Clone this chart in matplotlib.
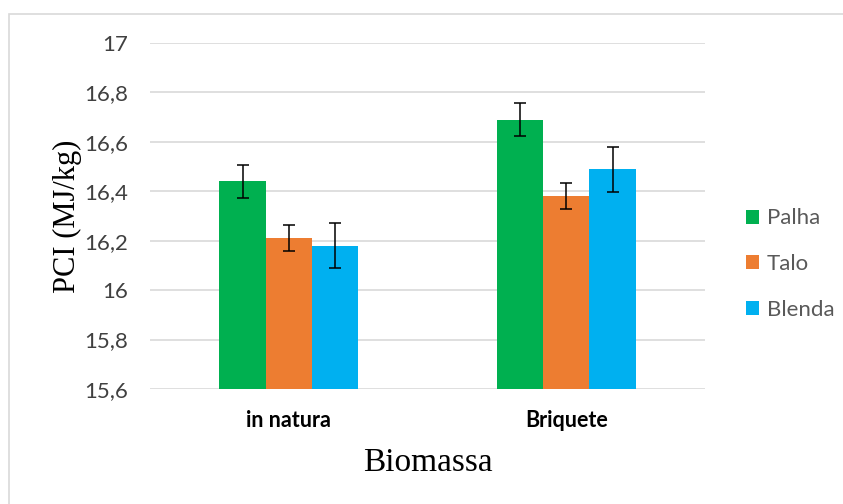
import numpy as np
import matplotlib.pyplot as plt
from matplotlib.patches import Rectangle

# PCI (MJ/kg) por biomassa
categorias = ['in natura', 'Briquete']
series = ['Palha', 'Talo', 'Blenda']
cores = ['#00B050', '#ED7D31', '#00B0F0']
pci = {
    'Palha': [16.44, 16.69],
    'Talo': [16.21, 16.38],
    'Blenda': [16.18, 16.49],
}
desvio = {
    'Palha': [0.067, 0.066],
    'Talo': [0.052, 0.052],
    'Blenda': [0.092, 0.091],
}
yticks = [15.6, 15.8, 16.0, 16.2, 16.4, 16.6, 16.8, 17.0]
ytick_labels = ['15,6', '15,8', '16', '16,2', '16,4', '16,6', '16,8', '17']

fig = plt.figure(figsize=(8.43, 5.04), dpi=100)
fig.patches.append(Rectangle((9 / 843, -0.1), 1.1, 1 - 14 / 504 + 0.1,
                             transform=fig.transFigure, fill=False,
                             edgecolor='#D9D9D9', linewidth=1.2))

ax = fig.add_axes([150 / 843, 1 - 389 / 504, 555 / 843, 346 / 504])

x = np.arange(len(categorias))
w = 0.5 / 3
for i, s in enumerate(series):
    ax.bar(x + (i - 1) * w, np.array(pci[s]) - 15.6, w, bottom=15.6,
           color=cores[i], label=s, zorder=2)
    ax.errorbar(x + (i - 1) * w, pci[s], yerr=desvio[s], fmt='none',
                ecolor='black', elinewidth=1.1, capsize=4.5, capthick=1.1,
                zorder=3)

ax.set_xlim(-0.5, 1.5)
ax.set_ylim(15.6, 17.0)
ax.set_yticks(yticks)
ax.set_yticklabels(ytick_labels, fontfamily='Lato', fontsize=16,
                   color='#404040')
ax.set_xticks(x)
ax.set_xticklabels(categorias, fontfamily='Lato', fontsize=15.5,
                   fontweight='bold', color='#000000')
ax.tick_params(axis='both', length=0)
ax.tick_params(axis='y', pad=16)
ax.tick_params(axis='x', pad=15)
ax.yaxis.grid(True, color='#D9D9D9', linewidth=1.2, zorder=0)
ax.set_axisbelow(True)
for sp in ax.spines.values():
    sp.set_visible(False)

ax.set_ylabel('PCI (MJ/kg)', fontfamily='Liberation Serif', fontsize=22)
ax.yaxis.set_label_coords((82 - 150) / 555, 0.5)
ax.set_xlabel('Biomassa', fontfamily='Liberation Serif', fontsize=24,
              labelpad=12)

leg = fig.legend(loc='center left', bbox_to_anchor=(726 / 843, 1 - 264 / 504),
                 frameon=False, handlelength=0.6, handleheight=0.6,
                 handletextpad=0.35, labelspacing=1.15,
                 prop={'family': 'Lato', 'size': 16})
for t in leg.get_texts():
    t.set_color('#595959')

fig.savefig('out.png', dpi=100)
